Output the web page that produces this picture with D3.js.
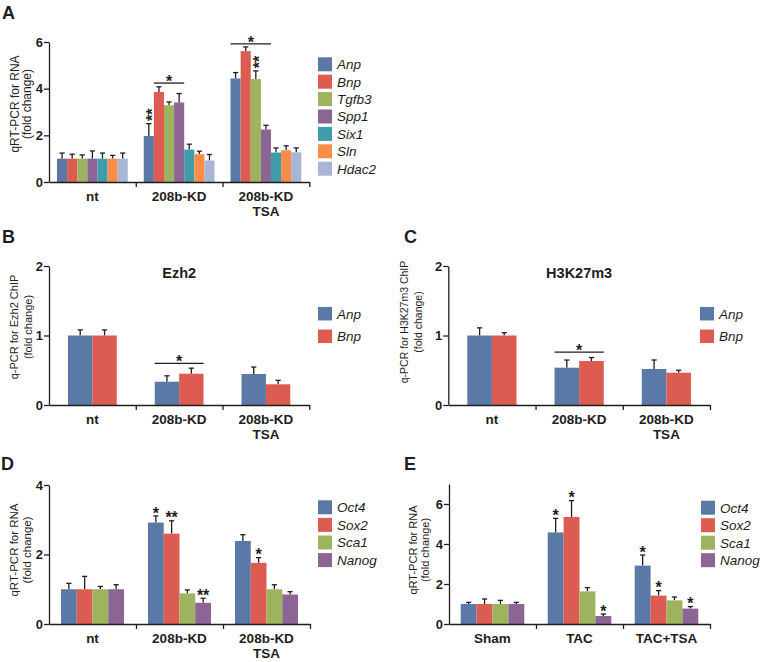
<!DOCTYPE html>
<html><head><meta charset="utf-8">
<script src="https://cdn.jsdelivr.net/npm/d3@7"></script>
<style>body{margin:0;background:#fff} svg{display:block}</style>
</head><body>
<svg id="chart" width="762" height="662"></svg>
<script>
// ---------------- DATA ----------------
// Panel A
const groupsA = [["nt"], ["208b-KD"], ["208b-KD", "TSA"]];
const seriesA = ["Anp", "Bnp", "Tgfb3", "Spp1", "Six1", "Sln", "Hdac2"];
const meansA = [
  [1.00, 1.00, 1.00, 1.00, 1.00, 1.00, 1.00],
  [1.97, 3.86, 3.29, 3.41, 1.39, 1.19, 0.92],
  [4.44, 5.61, 4.41, 2.25, 1.26, 1.36, 1.27]
];
const errorsA = [
  [0.24, 0.19, 0.16, 0.33, 0.24, 0.14, 0.24],
  [0.53, 0.22, 0.14, 0.38, 0.23, 0.13, 0.26],
  [0.25, 0.18, 0.35, 0.18, 0.20, 0.19, 0.19]
];
const ticksA = [0, 2, 4, 6];
const starsA = [{g: 1, s: "Anp", text: "**", stack: true}, {g: 2, s: "Tgfb3", text: "**", stack: true}];
const bracketsA = [{g: 1, from: "Bnp", to: "Spp1", y: 4.24, text: "*"}, {g: 2, from: "Anp", to: "Spp1", y: 5.92, text: "*"}];

// Panel B
const groupsB = [["nt"], ["208b-KD"], ["208b-KD", "TSA"]];
const seriesB = ["Anp", "Bnp"];
const meansB = [[1.00, 1.00], [0.335, 0.45], [0.446, 0.298]];
const errorsB = [[0.08, 0.08], [0.085, 0.08], [0.10, 0.057]];
const ticksB = [0, 1, 2];
const titleB = "Ezh2";
const bracketsB = [{g: 1, from: "Anp", to: "Bnp", y: 0.60, text: "*"}];

// Panel C
const groupsC = [["nt"], ["208b-KD"], ["208b-KD", "TSA"]];
const seriesC = ["Anp", "Bnp"];
const meansC = [[1.00, 1.00], [0.537, 0.633], [0.518, 0.465]];
const errorsC = [[0.11, 0.04], [0.11, 0.05], [0.13, 0.035]];
const ticksC = [0, 1, 2];
const titleC = "H3K27m3";
const bracketsC = [{g: 1, from: "Anp", to: "Bnp", y: 0.76, text: "*"}];

// Panel D
const groupsD = [["nt"], ["208b-KD"], ["208b-KD", "TSA"]];
const seriesD = ["Oct4", "Sox2", "Sca1", "Nanog"];
const meansD = [
  [1.00, 1.00, 1.00, 1.00],
  [2.92, 2.60, 0.88, 0.61],
  [2.39, 1.76, 1.00, 0.85]
];
const errorsD = [
  [0.17, 0.37, 0.08, 0.13],
  [0.19, 0.37, 0.10, 0.13],
  [0.18, 0.15, 0.13, 0.08]
];
const ticksD = [0, 2, 4];
const starsD = [{g: 1, s: "Oct4", text: "*"}, {g: 1, s: "Sox2", text: "**"}, {g: 1, s: "Nanog", text: "**"}, {g: 2, s: "Sox2", text: "*"}];

// Panel E
const groupsE = [["Sham"], ["TAC"], ["TAC+TSA"]];
const seriesE = ["Oct4", "Sox2", "Sca1", "Nanog"];
const meansE = [
  [1.00, 1.00, 1.00, 1.00],
  [4.58, 5.35, 1.63, 0.40],
  [2.92, 1.42, 1.18, 0.77]
];
const errorsE = [
  [0.08, 0.25, 0.18, 0.08],
  [0.70, 0.82, 0.19, 0.10],
  [0.53, 0.25, 0.17, 0.10]
];
const ticksE = [0, 2, 4, 6];
const starsE = [{g: 1, s: "Oct4", text: "*"}, {g: 1, s: "Sox2", text: "*"}, {g: 1, s: "Nanog", text: "*"},
                {g: 2, s: "Oct4", text: "*"}, {g: 2, s: "Sox2", text: "*"}, {g: 2, s: "Nanog", text: "*"}];

// ---------------- STYLE ----------------
const colors = {
  Anp: "#5a79a7", Bnp: "#dc5c51", Tgfb3: "#9eb35e", Spp1: "#8d6594",
  Six1: "#3f9caa", Sln: "#f78d49", Hdac2: "#a8b5d5",
  Oct4: "#5a79a7", Sox2: "#dc5c51", Sca1: "#9eb35e", Nanog: "#8d6594"
};
const FONT = "'Liberation Sans', Arial, Helvetica, sans-serif";
const INK = "#1e1e1e";
const svg = d3.select("#chart");

function drawPanel(c) {
  const g = svg.append("g");
  const x = d3.scaleBand().domain(d3.range(c.groups.length)).range([c.x0, c.x1]).padding(0);
  const xi = d3.scaleBand().domain(c.series).range([c.pad, x.bandwidth() - c.pad]).padding(0);
  const y = d3.scaleLinear().domain([0, c.ymax]).range([c.y0, c.y1]);
  const bw = xi.bandwidth();

  const flat = [];
  c.means.forEach((row, gi) => row.forEach((v, si) => flat.push({gi, s: c.series[si], v, e: c.errors[gi][si]})));

  // error bars (behind bars)
  const eb = g.append("g").attr("stroke", INK).attr("stroke-width", 1.3);
  eb.selectAll("line.v").data(flat).join("line")
    .attr("x1", d => x(d.gi) + xi(d.s) + bw / 2).attr("x2", d => x(d.gi) + xi(d.s) + bw / 2)
    .attr("y1", d => y(d.v)).attr("y2", d => y(d.v + d.e));
  eb.selectAll("line.c").data(flat).join("line")
    .attr("x1", d => x(d.gi) + xi(d.s) + bw / 2 - 2.6).attr("x2", d => x(d.gi) + xi(d.s) + bw / 2 + 2.6)
    .attr("y1", d => y(d.v + d.e)).attr("y2", d => y(d.v + d.e));

  // bars
  g.append("g").selectAll("rect").data(flat).join("rect")
    .attr("x", d => x(d.gi) + xi(d.s)).attr("width", bw)
    .attr("y", d => y(d.v)).attr("height", d => y(0) - y(d.v))
    .attr("fill", d => colors[d.s]);

  // y axis
  const ya = g.append("g").attr("transform", `translate(${c.x0},0)`)
    .call(d3.axisLeft(y).tickValues(c.ticks).tickFormat(d3.format("d")).tickSize(5).tickSizeOuter(0).tickPadding(1));
  ya.selectAll("path,line").attr("stroke", INK).attr("stroke-width", 1.3);
  ya.selectAll("text").attr("font-family", FONT).attr("font-size", 13).attr("font-weight", "bold").attr("fill", INK);

  // x axis (ticks at group boundaries)
  const xb = d3.scaleLinear().domain([0, c.groups.length]).range([c.x0, c.x1]);
  const xa = g.append("g").attr("transform", `translate(0,${c.y0})`)
    .call(d3.axisBottom(xb).tickValues(d3.range(1, c.groups.length + 1)).tickFormat("").tickSize(5).tickSizeOuter(0));
  xa.selectAll("path,line").attr("stroke", INK).attr("stroke-width", 1.3);

  // category labels
  c.groups.forEach((lines, gi) => {
    lines.forEach((t, li) => {
      g.append("text").attr("x", x(gi) + x.bandwidth() / 2).attr("y", c.y0 + 18.5 + li * 15)
        .attr("text-anchor", "middle").attr("font-family", FONT).attr("font-size", 13.5)
        .attr("font-weight", "bold").attr("fill", INK).text(t);
    });
  });

  // y label
  c.ylabel.forEach((t, li) => {
    g.append("text").attr("transform", `translate(${c.ylx[li]},${c.yly}) rotate(-90)`)
      .attr("text-anchor", "middle").attr("font-family", FONT).attr("font-size", c.ylfs)
      .attr("fill", INK).text(t);
  });

  // title
  if (c.title) {
    g.append("text").attr("x", (c.x0 + c.x1) / 2).attr("y", c.titleY).attr("text-anchor", "middle")
      .attr("font-family", FONT).attr("font-size", 14.5).attr("font-weight", "bold").attr("fill", INK).text(c.title);
  }

  // stars on bars
  (c.stars || []).forEach(st => {
    const si = c.series.indexOf(st.s);
    const cx = x(st.g) + xi(st.s) + bw / 2;
    const top = y(c.means[st.g][si] + c.errors[st.g][si]);
    if (st.stack) {
      // vertically stacked asterisks: one text rotated
      g.append("text").attr("transform", `translate(${cx},${top - 9}) rotate(-90)`)
        .attr("x", 0).attr("y", 9.2).attr("text-anchor", "middle")
        .attr("font-family", FONT).attr("font-size", 16).attr("font-weight", "bold").attr("fill", INK).text(st.text);
    } else {
      g.append("text").attr("x", cx).attr("y", top + 2.6).attr("text-anchor", "middle")
        .attr("font-family", FONT).attr("font-size", 16).attr("font-weight", "bold").attr("fill", INK).text(st.text);
    }
  });

  // brackets
  (c.brackets || []).forEach(b => {
    const xa0 = x(b.g) + xi(b.from), xa1 = x(b.g) + xi(b.to) + bw, yy = y(b.y);
    g.append("line").attr("x1", xa0).attr("x2", xa1).attr("y1", yy).attr("y2", yy)
      .attr("stroke", INK).attr("stroke-width", 1.3);
    g.append("text").attr("x", (xa0 + xa1) / 2).attr("y", yy + 4).attr("text-anchor", "middle")
      .attr("font-family", FONT).attr("font-size", 16).attr("font-weight", "bold").attr("fill", INK).text(b.text);
  });

  // legend
  const lg = g.append("g");
  c.series.forEach((s, i) => {
    const cy = c.legY + i * c.legStep;
    lg.append("rect").attr("x", c.legX).attr("y", cy - c.swH / 2).attr("width", 14).attr("height", c.swH).attr("fill", colors[s]);
    lg.append("text").attr("x", c.legX + 19).attr("y", cy + 4.9).attr("font-family", FONT)
      .attr("font-size", 13.5).attr("font-style", "italic").attr("fill", INK).text(s);
  });

  // panel letter
  svg.append("text").attr("x", c.letterX).attr("y", c.letterY).attr("font-family", FONT)
    .attr("font-size", 18).attr("font-weight", "bold").attr("fill", INK).text(c.letter);
}

drawPanel({letter: "A", letterX: 2, letterY: 18.5,
  groups: groupsA, series: seriesA, means: meansA, errors: errorsA, ticks: ticksA, ymax: 6,
  x0: 49, x1: 309.3, y0: 182, y1: 42, pad: 8, stars: starsA, brackets: bracketsA,
  ylabel: ["qRT-PCR for RNA", "(fold change)"], ylx: [18.5, 31], yly: 104, ylfs: 12,
  legX: 318, legY: 64.3, legStep: 17.4, swH: 14});

drawPanel({letter: "B", letterX: 2, letterY: 243,
  groups: groupsB, series: seriesB, means: meansB, errors: errorsB, ticks: ticksB, ymax: 2,
  x0: 49, x1: 309.3, y0: 405, y1: 266, pad: 19, brackets: bracketsB, title: titleB, titleY: 278,
  ylabel: ["q-PCR for Ezh2 ChIP", "(fold change)"], ylx: [18, 32], yly: 327, ylfs: 11,
  legX: 318, legY: 313.7, legStep: 22.6, swH: 13.5});

drawPanel({letter: "C", letterX: 404, letterY: 243,
  groups: groupsC, series: seriesC, means: meansC, errors: errorsC, ticks: ticksC, ymax: 2,
  x0: 448.3, x1: 710, y0: 405, y1: 266, pad: 19, brackets: bracketsC, title: titleC, titleY: 278,
  ylabel: ["q-PCR for H3K27m3 ChIP", "(fold change)"], ylx: [408, 422], yly: 322, ylfs: 10.5,
  legX: 700, legY: 313.7, legStep: 22.6, swH: 13.5});

drawPanel({letter: "D", letterX: 1, letterY: 470,
  groups: groupsD, series: seriesD, means: meansD, errors: errorsD, ticks: ticksD, ymax: 4,
  x0: 49, x1: 310, y0: 624, y1: 485, pad: 12, stars: starsD,
  ylabel: ["qRT-PCR for RNA", "(fold change)"], ylx: [18, 31], yly: 550, ylfs: 11.5,
  legX: 318, legY: 507.3, legStep: 17.6, swH: 14});

drawPanel({letter: "E", letterX: 404, letterY: 470,
  groups: groupsE, series: seriesE, means: meansE, errors: errorsE, ticks: ticksE, ymax: 7,
  x0: 449, x1: 710, y0: 624, y1: 484, pad: 11.7, stars: starsE,
  ylabel: ["qRT-PCR for RNA", "(fold change)"], ylx: [416.5, 428.5], yly: 550, ylfs: 11,
  legX: 701, legY: 507.7, legStep: 17.5, swH: 14});
</script>
</body></html>
